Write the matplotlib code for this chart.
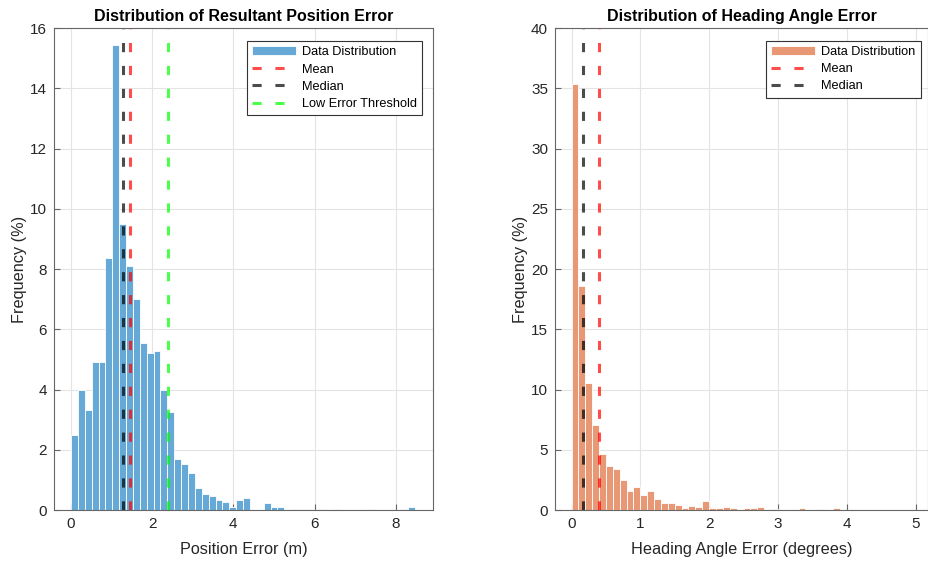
import numpy as np
import matplotlib
matplotlib.use('Agg')
import matplotlib.pyplot as plt

plt.rcParams['font.family'] = ['Liberation Sans', 'DejaVu Sans']

# position error histogram (percent per bin), 50 bins starting at 0
pos_bin_start = 0.0
pos_bin_width = 0.1696
pos_freq = [2.5, 4.0, 3.31, 4.92, 4.92, 8.37, 15.44, 9.48, 8.11, 7.0,
            5.53, 5.22, 5.28, 4.0, 3.24, 1.71, 1.53, 1.22, 0.72, 0.53,
            0.47, 0.33, 0.28, 0.11, 0.33, 0.41, 0.0, 0.0, 0.22, 0.1,
            0.1, 0.0, 0.03, 0.03, 0.03, 0.0, 0.03, 0.0, 0.03, 0.0,
            0.0, 0.0, 0.0, 0.03, 0.0, 0.0, 0.0, 0.0, 0.03, 0.1]
pos_mean = 1.46
pos_median = 1.29
pos_threshold = 2.38

# heading angle error histogram (percent per bin), bins of 0.1 deg
head_bin_start = 0.0
head_bin_width = 0.1
head_freq = [35.4, 18.62, 10.58, 7.07, 4.63, 3.68, 3.41, 2.49, 1.58, 1.94,
             1.25, 1.55, 0.89, 0.61, 0.55, 0.44, 0.16, 0.36, 0.28, 0.75,
             0.14, 0.19, 0.25, 0.14, 0.0, 0.14, 0.19, 0.25, 0.0, 0.06,
             0.0, 0.0, 0.0, 0.19, 0.0, 0.0, 0.06, 0.0, 0.19, 0.0]
head_mean = 0.40
head_median = 0.17

blue = '#66a9d6'
orange = '#e89874'
txt = '#262626'


def style_axes(ax):
    ax.grid(True, color='#e4e4e4', linewidth=0.8)
    ax.set_axisbelow(True)
    for s in ax.spines.values():
        s.set_color('#666666')
        s.set_linewidth(0.8)
    ax.tick_params(direction='in', length=4, color='#666666', labelsize=11,
                   labelcolor=txt, top=False, right=False, pad=5)


def draw_hist(ax, start, width, freq, color):
    edges = start + width * np.arange(len(freq))
    return ax.bar(edges, freq, width=width, align='edge', color=color,
                  edgecolor='white', linewidth=0.6, label='Data Distribution')


def vline(ax, x, color, label):
    return ax.axvline(x, color=color, alpha=0.7, lw=2.2, dashes=(3, 4.5),
                      label=label)


def add_legend(ax, handles, anchor):
    leg = ax.legend(handles=handles, loc='upper right', fontsize=9.2,
                    handlelength=3.4, handletextpad=0.5, labelspacing=0.42,
                    borderpad=0.4, borderaxespad=0, fancybox=False,
                    framealpha=1, edgecolor='#333333', bbox_to_anchor=anchor)
    leg.get_frame().set_linewidth(0.8)


fig = plt.figure(figsize=(9.29, 5.61), dpi=100)
ax1 = fig.add_axes([0.0581, 0.0909, 0.408, 0.859])
ax2 = fig.add_axes([0.5974, 0.0909, 0.4015, 0.859])

# left panel
style_axes(ax1)
b1 = draw_hist(ax1, pos_bin_start, pos_bin_width, pos_freq, blue)
l1 = vline(ax1, pos_mean, 'red', 'Mean')
l2 = vline(ax1, pos_median, 'black', 'Median')
l3 = vline(ax1, pos_threshold, '#00ff00', 'Low Error Threshold')
ax1.set_xlim(-0.42, 8.92)
ax1.set_ylim(0, 16)
ax1.set_xticks([0, 2, 4, 6, 8])
ax1.set_yticks(range(0, 17, 2))
ax1.set_xlabel('Position Error (m)', fontsize=11.7, color=txt, labelpad=8)
ax1.set_ylabel('Frequency (%)', fontsize=11.7, color=txt, labelpad=2)
ax1.set_title('Distribution of Resultant Position Error', fontsize=11.5,
              fontweight='bold', pad=5)
add_legend(ax1, [b1, l1, l2, l3], (0.971, 0.973))

# right panel
style_axes(ax2)
b2 = draw_hist(ax2, head_bin_start, head_bin_width, head_freq, orange)
m1 = vline(ax2, head_mean, 'red', 'Mean')
m2 = vline(ax2, head_median, 'black', 'Median')
ax2.set_xlim(-0.24, 5.18)
ax2.set_ylim(0, 40)
ax2.set_xticks(range(0, 6))
ax2.set_yticks(range(0, 41, 5))
ax2.set_xlabel('Heading Angle Error (degrees)', fontsize=11.7, color=txt,
               labelpad=8)
ax2.set_ylabel('Frequency (%)', fontsize=11.7, color=txt, labelpad=2)
ax2.set_title('Distribution of Heading Angle Error', fontsize=11.5,
              fontweight='bold', pad=5)
add_legend(ax2, [b2, m1, m2], (0.980, 0.974))

fig.savefig('out.png', dpi=100)
